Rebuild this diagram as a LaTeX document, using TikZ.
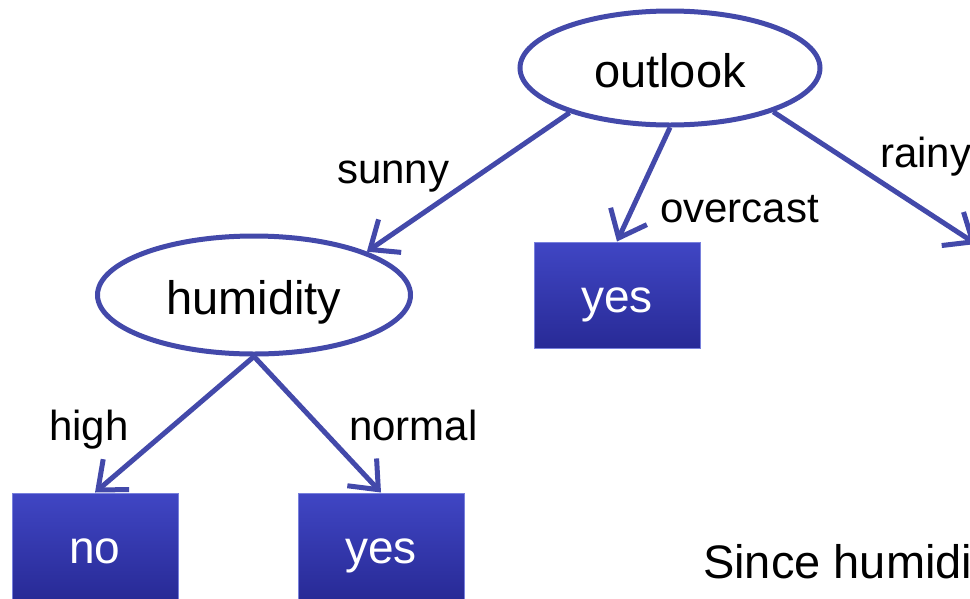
\documentclass[tikz,border=0pt]{standalone}
\usepackage{fontspec}
\setmainfont{Liberation Sans}
\usetikzlibrary{shapes.geometric,arrows.meta}
\definecolor{edgeblue}{RGB}{67,73,170}
\definecolor{boxtop}{RGB}{64,70,196}
\definecolor{boxbot}{RGB}{40,42,150}
\definecolor{boxrim}{RGB}{120,128,220}
\begin{document}
\begin{tikzpicture}[x=1pt,y=-1pt,
  decision/.style={ellipse, draw=edgeblue, line width=5pt, fill=white,
    minimum width=300pt, minimum height=114pt, inner sep=0pt,
    font=\fontsize{47}{50}\selectfont, text height=39pt, text depth=0pt},
  leaf/.style={rectangle, top color=boxtop, bottom color=boxbot, draw=boxrim,
    line width=1pt, minimum width=166pt, minimum height=106pt, inner sep=0pt,
    text=white, font=\fontsize{46}{50}\selectfont, text height=34pt, text depth=0pt},
  branch/.style={draw=edgeblue, line width=5pt,
    -{Straight Barb[length=24pt,width=40pt,line width=5pt]}},
  lbl/.style={anchor=base west, inner sep=0pt, font=\fontsize{42}{46}\selectfont},
  note/.style={anchor=base west, inner sep=0pt, font=\fontsize{47}{54}\selectfont}]
\useasboundingbox (0,0) rectangle (970,598);
\clip (0,0) rectangle (970,598);

\node[decision] (outlook) at (670,68) {outlook};
\node[decision, minimum width=313pt, minimum height=118pt] (humidity) at (254,295) {humidity};
\node[leaf] (yesA) at (617,295) {yes};
\node[leaf] (no) at (95,546) {no};
\node[leaf] (yesB) at (381,546) {yes};
\coordinate (rainyend) at (976,244);

\draw[branch] (outlook.204) -- (humidity.21);
\draw[branch] (outlook.south) -- (yesA.north);
\draw[branch] (outlook.-23) -- (rainyend);
\draw[branch] (humidity.south) -- (no.north);
\draw[branch] (humidity.south) -- (yesB.north);

\node[lbl] (lsunny) at (337,183) {sunny};
\node[lbl] (lovercast) at (660,222) {overcast};
\node[lbl] (lrainy) at (880,167) {rainy};
\node[lbl] (lhigh) at (49,440) {high};
\node[lbl] (lnormal) at (349,440) {normal};

\node[note] (since) at (703,578) {Since humidity};
\end{tikzpicture}
\end{document}
